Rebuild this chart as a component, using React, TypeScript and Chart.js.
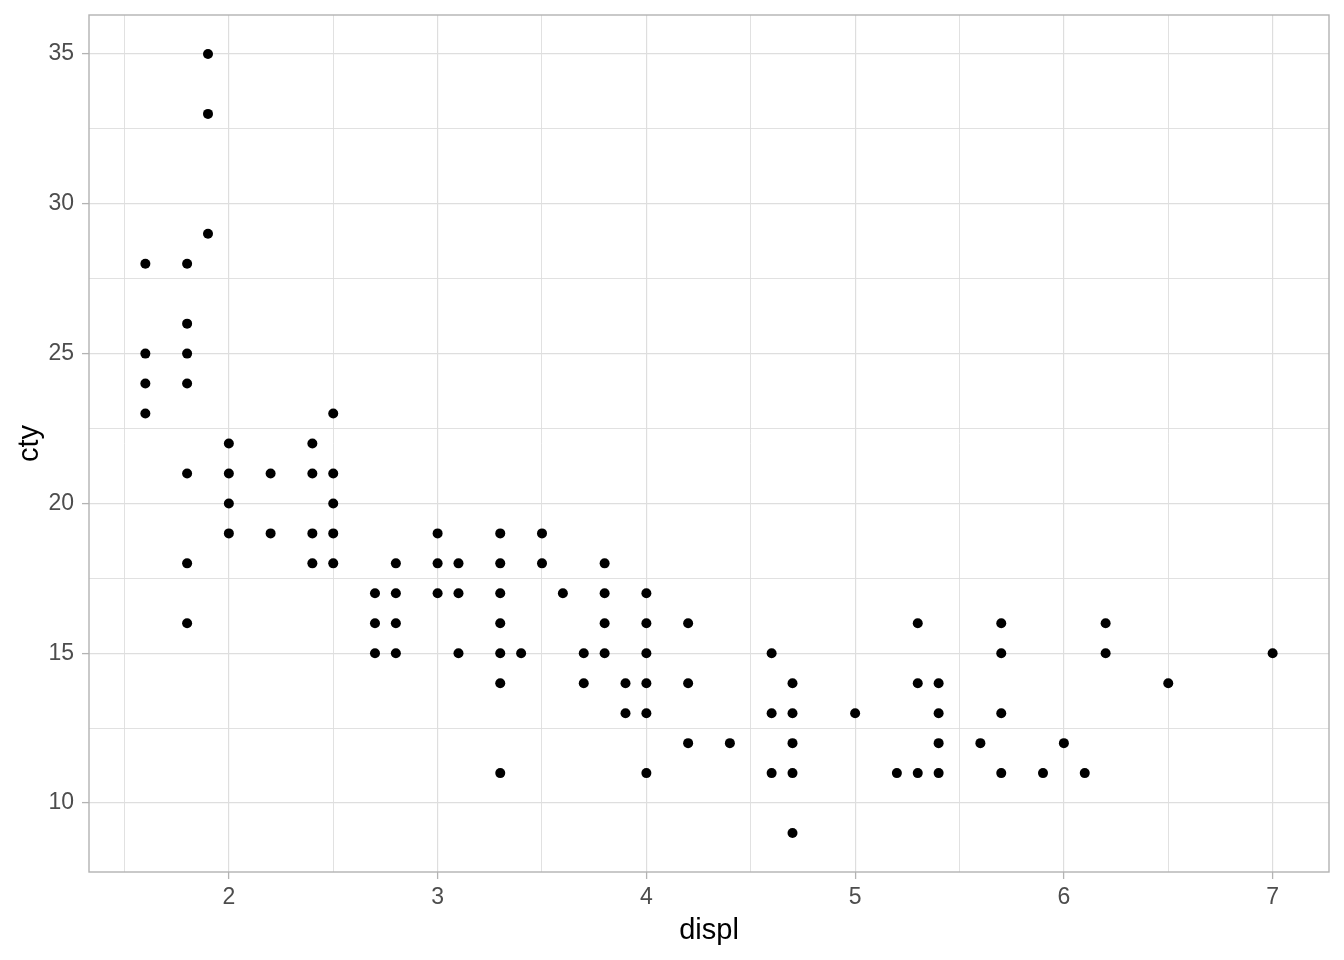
import React, { useEffect, useRef } from "react";
import { Chart, registerables } from "chart.js";

Chart.register(...registerables);

// engine displacement (litres) and city mileage (mpg)
const displValues = [
  1.6, 1.6, 1.6, 1.6,
  1.8, 1.8, 1.8, 1.8, 1.8, 1.8, 1.8,
  1.9, 1.9, 1.9,
  2.0, 2.0, 2.0, 2.0,
  2.2, 2.2,
  2.4, 2.4, 2.4, 2.4,
  2.5, 2.5, 2.5, 2.5, 2.5,
  2.7, 2.7, 2.7,
  2.8, 2.8, 2.8, 2.8,
  3.0, 3.0, 3.0,
  3.1, 3.1, 3.1,
  3.3, 3.3, 3.3, 3.3, 3.3, 3.3, 3.3,
  3.4,
  3.5, 3.5,
  3.6,
  3.7, 3.7,
  3.8, 3.8, 3.8, 3.8,
  3.9, 3.9,
  4.0, 4.0, 4.0, 4.0, 4.0, 4.0,
  4.2, 4.2, 4.2,
  4.4,
  4.6, 4.6, 4.6,
  4.7, 4.7, 4.7, 4.7, 4.7,
  5.0,
  5.2,
  5.3, 5.3, 5.3,
  5.4, 5.4, 5.4, 5.4,
  5.6,
  5.7, 5.7, 5.7, 5.7,
  5.9,
  6.0,
  6.1,
  6.2, 6.2,
  6.5,
  7.0,
];

const ctyValues = [
  28, 25, 24, 23,
  28, 26, 25, 24, 21, 18, 16,
  35, 33, 29,
  22, 21, 20, 19,
  21, 19,
  22, 21, 19, 18,
  23, 21, 20, 19, 18,
  17, 16, 15,
  18, 17, 16, 15,
  19, 18, 17,
  18, 17, 15,
  19, 18, 17, 16, 15, 14, 11,
  15,
  19, 18,
  17,
  15, 14,
  18, 17, 16, 15,
  14, 13,
  17, 16, 15, 14, 13, 11,
  16, 14, 12,
  12,
  15, 13, 11,
  14, 13, 12, 11, 9,
  13,
  11,
  16, 14, 11,
  14, 13, 12, 11,
  12,
  16, 15, 13, 11,
  11,
  12,
  11,
  16, 15,
  14,
  15,
];

const xMajorTicks = [2, 3, 4, 5, 6, 7];
const xMinorTicks = [1.5, 2.5, 3.5, 4.5, 5.5, 6.5];
const yMajorTicks = [10, 15, 20, 25, 30, 35];
const yMinorTicks = [12.5, 17.5, 22.5, 27.5, 32.5];

const xRange = [1.33, 7.27];
const yRange = [7.7, 36.3];

const GRID = "#DEDEDE";
const BORDER = "#B3B3B3";
const TICK_TEXT = "#4D4D4D";
const FONT = "'Liberation Sans', Arial, sans-serif";

function makeTicks(major: number[], minor: number[]) {
  return [...major, ...minor]
    .sort((a, b) => a - b)
    .map((v) => ({ value: v, major: major.includes(v) }));
}

const panelBorder = {
  id: "panelBorder",
  afterDatasetsDraw(chart: any) {
    const { ctx, chartArea } = chart;
    ctx.save();
    ctx.strokeStyle = BORDER;
    ctx.lineWidth = 1.4;
    ctx.strokeRect(
      chartArea.left,
      chartArea.top,
      chartArea.right - chartArea.left,
      chartArea.bottom - chartArea.top
    );
    ctx.restore();
  },
};

export default function App() {
  const canvasRef = useRef<HTMLCanvasElement | null>(null);

  useEffect(() => {
    if (!canvasRef.current) return;
    const points = displValues.map((x, i) => ({ x, y: ctyValues[i] }));
    const chart = new Chart(canvasRef.current, {
      type: "scatter",
      data: {
        datasets: [
          {
            data: points,
            pointRadius: 5,
            pointBackgroundColor: "#000000",
            pointBorderWidth: 0,
            pointHoverRadius: 5,
          },
        ],
      },
      plugins: [panelBorder],
      options: {
        responsive: false,
        animation: false,
        layout: { padding: { top: 15, right: 15, left: 0, bottom: 0 } },
        plugins: {
          legend: { display: false },
          tooltip: { enabled: false },
        },
        scales: {
          x: {
            type: "linear",
            min: xRange[0],
            max: xRange[1],
            afterBuildTicks: (scale: any) => {
              scale.ticks = makeTicks(xMajorTicks, xMinorTicks);
            },
            afterFit: (scale: any) => {
              scale.height = 88;
              scale.paddingLeft = 0;
              scale.paddingRight = 0;
            },
            border: { display: false },
            grid: {
              color: GRID,
              lineWidth: (ctx: any) =>
                xMajorTicks.includes(ctx.tick?.value) ? 1.2 : 0.9,
              drawTicks: true,
              tickLength: 7,
              tickWidth: 1.3,
              tickColor: (ctx: any) =>
                xMajorTicks.includes(ctx.tick?.value) ? BORDER : "rgba(0,0,0,0)",
            },
            ticks: {
              autoSkip: false,
              maxRotation: 0,
              padding: 5,
              color: TICK_TEXT,
              font: { family: FONT, size: 23 },
              callback: (v: any) =>
                xMajorTicks.includes(Number(v)) ? String(v) : "",
            },
            title: {
              display: true,
              text: "displ",
              color: "#000000",
              font: { family: FONT, size: 29 },
              padding: { top: 4, bottom: 11.5 },
            },
          },
          y: {
            type: "linear",
            min: yRange[0],
            max: yRange[1],
            afterBuildTicks: (scale: any) => {
              scale.ticks = makeTicks(yMajorTicks, yMinorTicks);
            },
            afterFit: (scale: any) => {
              scale.width = 89;
              scale.paddingTop = 0;
              scale.paddingBottom = 0;
            },
            border: { display: false },
            grid: {
              color: GRID,
              lineWidth: (ctx: any) =>
                yMajorTicks.includes(ctx.tick?.value) ? 1.2 : 0.9,
              drawTicks: true,
              tickLength: 7,
              tickWidth: 1.3,
              tickColor: (ctx: any) =>
                yMajorTicks.includes(ctx.tick?.value) ? BORDER : "rgba(0,0,0,0)",
            },
            ticks: {
              autoSkip: false,
              padding: 8,
              color: TICK_TEXT,
              font: { family: FONT, size: 23 },
              callback: (v: any) =>
                yMajorTicks.includes(Number(v)) ? String(v) : "",
            },
            title: {
              display: true,
              text: "cty",
              color: "#000000",
              font: { family: FONT, size: 29 },
              padding: { top: 13, bottom: 0 },
            },
          },
        },
      },
    });
    return () => chart.destroy();
  }, []);

  return (
    <div
      style={{
        position: "fixed",
        left: 0,
        top: 0,
        width: 1344,
        height: 960,
        background: "#ffffff",
      }}
    >
      <canvas ref={canvasRef} width={1344} height={960} />
    </div>
  );
}
